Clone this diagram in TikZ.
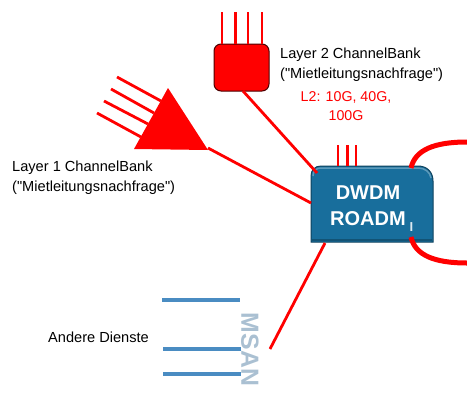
\documentclass[tikz,border=0pt]{standalone}
\usepackage{fontspec}
\setmainfont[Ligatures=TeXOff]{Liberation Sans}
\begin{document}
\begin{tikzpicture}[x=1pt,y=-1pt,font=\fontsize{14.6}{20.5}\selectfont]
\definecolor{roadmblue}{RGB}{24,110,156}
\definecolor{msangray}{RGB}{170,192,210}
\definecolor{msanblue}{RGB}{74,140,194}
\tikzset{
% Line and text styles
red line/.style={draw=red,line width=2.8pt},
thick line/.style={draw=red,line width=5pt},
msan line/.style={draw=msanblue,line width=3.2pt},
plain text/.style={inner sep=0,align=center}
}
\useasboundingbox (0,0) rectangle (467,392);

% The ROADM box
\draw[fill=roadmblue,draw=roadmblue!60!black,line width=1pt]
(311,242) -- (311,176) .. controls (311,170) and (315,166) .. (321,166)
-- (418,166) .. controls (427,166) and (433,172) .. (433,181) -- (433,242) -- cycle;
\draw[roadmblue!70!white,line width=1.5pt] (313,176) .. controls (313,171) and (316,168) .. (321,168)
-- (418,168) .. controls (425,168) and (430,172) .. (431,178);
\draw[roadmblue!75!black,line width=1.5pt] (312,240) -- (432,240);
\node(roadm)[plain text,text=white,font=\fontsize{20}{26}\selectfont\bfseries] at (368,206) {DWDM\\ROADM};
\node(i)[plain text,text=white!85!roadmblue,font=\fontsize{13}{13}\selectfont\bfseries] at (411.5,227) {I};

% Layer 2 bank
\node(bank)[draw=black!70!red,fill=red,line width=1pt,rounded corners=7,minimum width=55,minimum height=47,inner sep=0] at (241.5,67.5) {};
\foreach \x in {222,235.5,248,262}
\draw[red line] (\x,12) -- (\x,44);
\draw[red line] (243,91) -- (317,173);

% Layer 1 bank
\fill[red] (168,88) -- (208,150) -- (134,149) -- cycle;
\draw[red line] (117,77) -- (161,101);
\draw[red line] (111,89) -- (154,113);
\draw[red line] (104,101) -- (148,124);
\draw[red line] (97,113) -- (141,137);
\draw[red line] (208,148) -- (311,203);

% Connections of the ROADM box
\foreach \x in {338,347.5,356}
\draw[red line] (\x,145) -- (\x,166);
\draw[thick line] (411,168) .. controls (415,150) and (434,142) .. (467,142);
\draw[thick line] (411,237) .. controls (415,255) and (434,263) .. (467,263);
\draw[red line] (325,243) -- (270,349);

% MSAN
\draw[msan line] (162,300) -- (240,300);
\draw[msan line] (163,349) -- (241,349);
\draw[msan line] (163,374) -- (241,374);
\node(msan)[plain text,text=msangray,rotate=-90,font=\fontsize{24.8}{28}\selectfont\bfseries] at (250,349.5) {MSAN};

% Labels
\node(l2)[plain text,anchor=west,align=left] at (280,64.5) {Layer 2 ChannelBank\\("Mietleitungsnachfrage")};
\node(rates)[plain text,text=red,font=\fontsize{14.2}{19}\selectfont] at (346,106.5) {L2: 10G, 40G,\\100G};
\node(l1)[plain text,anchor=west,align=left] at (12,177.5) {Layer 1 ChannelBank\\("Mietleitungsnachfrage")};
\node(other)[plain text,anchor=west] at (48,337) {Andere Dienste};
\end{tikzpicture}
\end{document}
